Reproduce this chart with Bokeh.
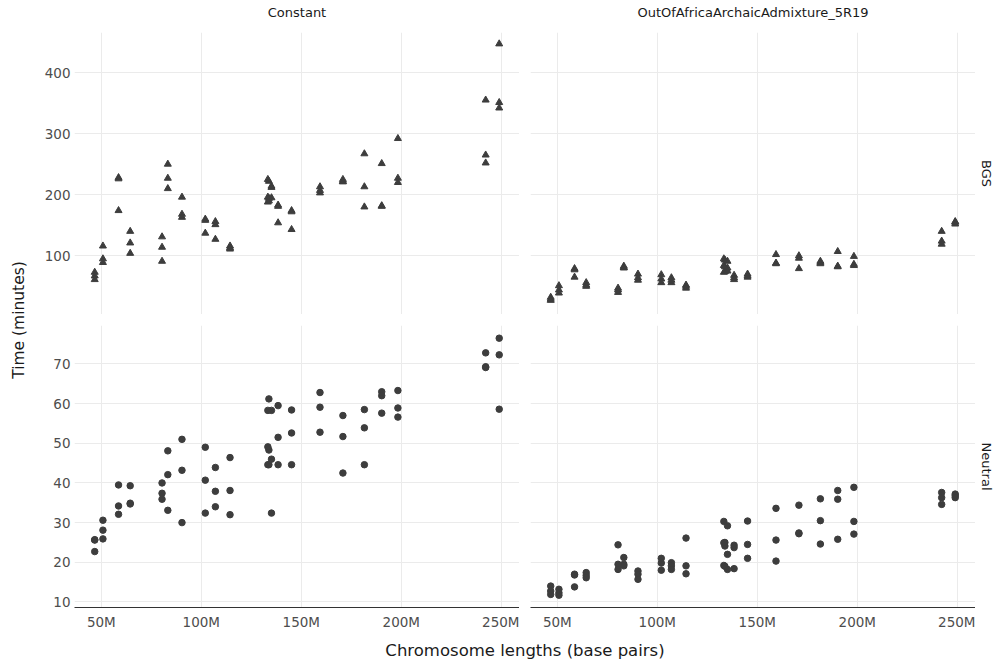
import math
from bokeh.plotting import figure
from bokeh.layouts import gridplot, row, column
from bokeh.models import Range1d, FixedTicker, ColumnDataSource
from bokeh.core.properties import value
from bokeh.embed import file_html
from bokeh.resources import INLINE

# ---------------- data ----------------
chromosomes = ["chr%d" % i for i in range(1, 23)]
chrom_length = [248956422, 242193529, 198295559, 190214555, 181538259, 170805979,
                159345973, 145138636, 138394717, 133797422, 135086622, 133275309,
                114364328, 107043718, 101991189, 90338345, 83257441, 80373285,
                58617616, 64444167, 46709983, 50818468]

# three replicate timings (minutes) per chromosome, chr1..chr22
constant_bgs = [[447, 351, 342], [355, 265, 252], [292, 227, 220], [251, 182, 181],
                [267, 213, 180], [225, 222, 221], [213, 207, 203], [174, 172, 143],
                [183, 181, 154], [222, 194, 190], [214, 212, 195], [225, 196, 188],
                [116, 113, 111], [156, 151, 127], [160, 158, 137], [196, 168, 163],
                [250, 227, 210], [131, 114, 91], [228, 226, 174], [140, 121, 104],
                [73, 67, 61], [116, 95, 89]]
ooa_bgs = [[156, 155, 152], [140, 124, 119], [99, 86, 84], [107, 83, 82],
           [91, 89, 87], [100, 96, 79], [102, 88, 87], [70, 67, 65],
           [68, 64, 61], [93, 82, 74], [91, 80, 75], [95, 84, 73],
           [52, 50, 47], [64, 60, 56], [69, 62, 56], [70, 64, 60],
           [83, 81, 80], [47, 44, 40], [79, 77, 65], [56, 52, 50],
           [32, 29, 27], [51, 44, 39]]
constant_neutral = [[76.5, 72.3, 58.6], [72.8, 69.3, 69.1], [63.3, 58.9, 56.6], [63.0, 62.0, 57.6],
                    [58.5, 53.9, 44.6], [57.0, 51.7, 42.5], [62.8, 59.1, 52.8], [58.4, 52.6, 44.6],
                    [59.5, 51.5, 44.6], [61.2, 48.3, 44.6], [58.3, 46.0, 32.4], [58.3, 49.1, 44.6],
                    [46.4, 38.1, 32.0], [43.9, 37.9, 34.0], [49.0, 40.7, 32.4], [51.0, 43.2, 30.0],
                    [48.1, 42.1, 33.1], [40.0, 37.4, 35.9], [39.5, 34.2, 32.1], [39.3, 34.9, 34.7],
                    [25.7, 25.6, 22.7], [30.6, 28.1, 25.9]]
ooa_neutral = [[37.2, 36.8, 36.3], [37.6, 36.3, 34.6], [38.9, 30.3, 27.1], [38.1, 35.9, 25.8],
               [36.0, 30.5, 24.6], [34.4, 27.4, 27.2], [33.6, 25.6, 20.3], [30.4, 24.5, 21.0],
               [24.3, 23.7, 18.4], [25.0, 24.1, 19.0], [29.2, 22.0, 18.2], [30.3, 24.9, 19.2],
               [26.1, 19.1, 17.1], [19.9, 19.1, 18.2], [21.0, 19.8, 18.0], [17.8, 17.0, 15.7],
               [21.2, 19.5, 19.1], [24.4, 19.5, 18.2], [17.0, 16.8, 13.8], [17.4, 16.7, 16.1],
               [14.0, 12.75, 11.9], [13.2, 12.3, 11.7]]

col_labels = ["Constant", "OutOfAfricaArchaicAdmixture_5R19"]
row_labels = ["BGS", "Neutral"]
x_ticks = [50e6, 100e6, 150e6, 200e6, 250e6]
x_tick_labels = ["50M", "100M", "150M", "200M", "250M"]
top_ticks = [100, 200, 300, 400]
bottom_ticks = [10, 20, 30, 40, 50, 60, 70]

# ---------------- styling / layout sizes ----------------
FONT = "DejaVu Sans"
PT_COLOR = "#3D3D3D"
GRID = "#EBEBEB"
TICK_FS = "13.5px"
STRIP_FS = "13px"

W_TOTAL, H_TOTAL = 997, 665
YT_W = 30          # y-title strip width
LEFT_B = 44        # room for y tick labels
PANEL_W = 445
GAP = 11
RS_W = 22          # right strip width
TS_H = 32          # top strip height
PANEL_H = 282
XAX_H = 28         # x tick label band
XT_H = 30          # x-title band


def flatten(triplets):
    xs, ys = [], []
    for L, t in zip(chrom_length, triplets):
        for v in t:
            xs.append(L)
            ys.append(v)
    return ColumnDataSource(dict(x=xs, y=ys))


x_range = Range1d(36.6e6, 259.1e6)
y_top = Range1d(3.8, 465.6)
y_bot = Range1d(8.6, 79.7)


def blank_fig(w, h, xr, yr, bt=0, bb=0):
    f = figure(width=w, height=h, x_range=xr, y_range=yr,
               output_backend="svg", toolbar_location=None,
               x_axis_location=None, y_axis_location=None,
               min_border_left=0, min_border_right=0,
               min_border_top=bt, min_border_bottom=bb)
    f.outline_line_color = None
    f.grid.visible = False
    return f


def make_panel(src, marker, size, yr, yticks, show_y, show_x, width, height,
               bl, bt, bb):
    p = figure(width=width, height=height, x_range=x_range, y_range=yr,
               output_backend="svg", toolbar_location=None,
               x_axis_location="below" if show_x else None,
               y_axis_location="left" if show_y else None,
               min_border_left=bl, min_border_right=0,
               min_border_top=bt, min_border_bottom=bb)
    p.outline_line_color = None
    p.xgrid.ticker = FixedTicker(ticks=x_ticks)
    p.ygrid.ticker = FixedTicker(ticks=yticks)
    p.grid.grid_line_color = GRID
    p.grid.grid_line_width = 1
    if show_x:
        ax = p.xaxis[0]
        ax.ticker = FixedTicker(ticks=x_ticks)
        ax.major_label_overrides = {int(t): l for t, l in zip(x_ticks, x_tick_labels)}
        ax.axis_line_color = "#333333"
        ax.axis_line_width = 1
        ax.major_tick_out = 0
        ax.major_tick_in = 0
        ax.minor_tick_out = 0
        ax.minor_tick_in = 0
        ax.major_label_standoff = 6
        ax.major_label_text_font = FONT
        ax.major_label_text_font_size = TICK_FS
        ax.major_label_text_color = "#4D4D4D"
    if show_y:
        ay = p.yaxis[0]
        ay.ticker = FixedTicker(ticks=yticks)
        ay.axis_line_color = None
        ay.major_tick_out = 0
        ay.major_tick_in = 0
        ay.minor_tick_out = 0
        ay.minor_tick_in = 0
        ay.major_label_standoff = 4
        ay.major_label_text_font = FONT
        ay.major_label_text_font_size = TICK_FS
        ay.major_label_text_color = "#4D4D4D"
    p.scatter("x", "y", source=src, marker=marker, size=size,
              fill_color=PT_COLOR, line_color=PT_COLOR)
    return p


LW = LEFT_B + PANEL_W        # left column figure width
RW = GAP + PANEL_W           # right column figure width
BH = GAP + PANEL_H + XAX_H   # bottom row figure height

tl = make_panel(flatten(constant_bgs), "triangle", 7, y_top, top_ticks, True, False,
                LW, PANEL_H, LEFT_B, 0, 0)
tr = make_panel(flatten(ooa_bgs), "triangle", 7, y_top, top_ticks, False, False,
                RW, PANEL_H, GAP, 0, 0)
bl = make_panel(flatten(constant_neutral), "circle", 6.5, y_bot, bottom_ticks, True, True,
                LW, BH, LEFT_B, GAP, XAX_H)
br = make_panel(flatten(ooa_neutral), "circle", 6.5, y_bot, bottom_ticks, False, True,
                RW, BH, GAP, GAP, XAX_H)

grid = gridplot([[tl, tr], [bl, br]], toolbar_location=None)

# top strip (column facet labels), in pixel coordinates of the page width
strip_top = blank_fig(W_TOTAL, TS_H, Range1d(0, W_TOTAL), Range1d(0, TS_H))
left_center = YT_W + LEFT_B + PANEL_W / 2
right_center = YT_W + LW + GAP + PANEL_W / 2
strip_top.text(x=[left_center, right_center], y=[TS_H - 12, TS_H - 12], text=col_labels,
               text_align="center", text_baseline="middle",
               text_font=value(FONT), text_font_size=STRIP_FS, text_color="#1A1A1A")

mid_h = PANEL_H + BH
# right strip (row facet labels)
strip_right = blank_fig(RS_W, mid_h, Range1d(0, RS_W), Range1d(0, mid_h - XAX_H), bb=XAX_H)
span = mid_h - XAX_H
strip_right.text(x=[RS_W / 2, RS_W / 2],
                 y=[span - PANEL_H / 2, PANEL_H / 2], text=row_labels,
                 angle=-math.pi / 2, text_align="center", text_baseline="middle",
                 text_font=value(FONT), text_font_size=STRIP_FS, text_color="#1A1A1A")

# shared y-axis title
yfig = blank_fig(YT_W, mid_h, Range1d(0, 1), Range1d(0, 1), bb=XAX_H)
yfig.text(x=[0.6], y=[0.5], text=["Time (minutes)"], angle=math.pi / 2,
          text_align="center", text_baseline="middle",
          text_font=value(FONT), text_font_size="15.5px", text_color="#1A1A1A")

# shared x-axis title
xfig = blank_fig(W_TOTAL, XT_H, Range1d(0, W_TOTAL), Range1d(0, XT_H))
x_center = YT_W + LEFT_B + (2 * PANEL_W + GAP) / 2
xfig.text(x=[x_center], y=[XT_H / 2], text=["Chromosome lengths (base pairs)"],
          text_align="center", text_baseline="middle",
          text_font=value(FONT), text_font_size="16.5px", text_color="#1A1A1A")

layout = column(strip_top, row(yfig, grid, strip_right), xfig)

open("out.html", "w").write(file_html(layout, INLINE))
